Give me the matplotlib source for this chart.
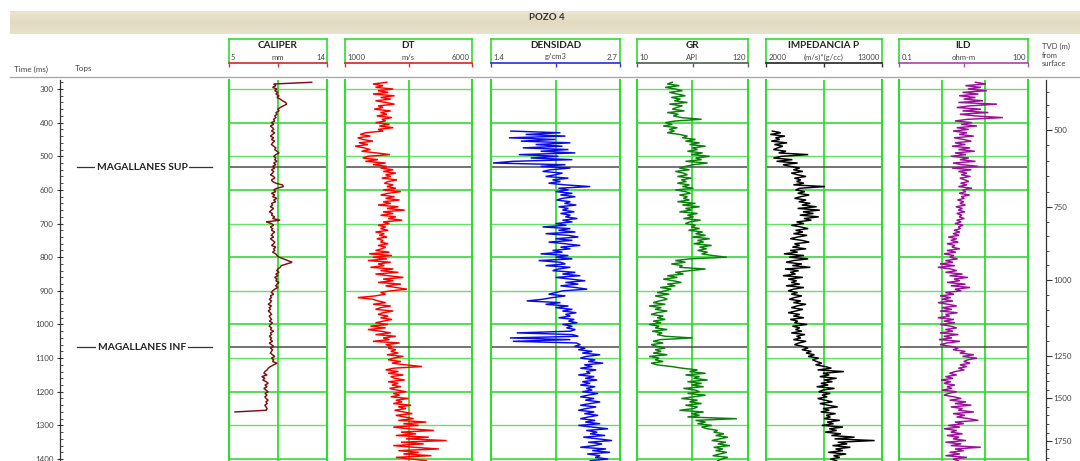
import numpy as np
import matplotlib
matplotlib.use("Agg")
import matplotlib.pyplot as plt
from matplotlib.ticker import FixedLocator, NullFormatter, NullLocator

plt.rcParams["font.family"] = ["Lato", "DejaVu Sans"]

W, H, DPI = 1080, 461, 100

# ------------------------------------------------------------------ data
STEP_MS = 5

caliper_start = 280
caliper_mm = [
    12.6,
    9.1, 9.3, 9.0, 9.4, 9.2, 9.5, 9.3, 9.6, 9.4, 9.7,
    9.9, 10.2, 10.3, 10.0, 9.7, 9.5, 9.6, 9.3, 9.4, 9.2,
    9.3, 9.1, 9.2, 8.9, 9.1, 8.8, 9.0, 9.1, 8.9, 9.2,
    9.0, 8.8, 9.1, 8.9, 9.2, 9.0, 8.9, 9.1, 9.3, 9.2,
    9.4, 9.6, 9.3, 9.1, 9.3, 9.2, 9.4, 9.1, 9.3, 9.0,
    9.2, 8.9, 9.1, 9.0, 8.8, 9.1, 9.2, 8.9, 9.0, 9.3,
    9.9, 10.0, 9.4, 9.1, 9.3, 8.9, 9.2, 9.0, 9.4, 9.1,
    9.3, 8.9, 9.0, 8.8, 9.1, 8.9, 8.7, 9.0, 8.9, 9.2,
    9.0, 9.7, 8.4, 8.9, 9.1, 8.8, 9.0, 8.9, 9.2, 9.0,
    8.9, 9.1, 8.8, 9.0, 9.2, 9.1, 8.9, 9.3, 9.1, 9.2,
    9.0, 9.3, 9.4, 9.6, 10.0, 10.4, 10.8, 10.3, 9.8, 9.7,
    9.5, 9.4, 9.6, 9.3, 9.5, 9.2, 9.4, 9.3, 9.6, 9.4,
    9.3, 9.5, 9.2, 9.0, 8.9, 9.1, 8.8, 8.9, 8.7, 8.9,
    8.8, 8.6, 8.9, 8.7, 8.8, 8.6, 8.8, 8.9, 8.7, 8.8,
    8.9, 8.7, 9.0, 8.8, 8.7, 8.9, 8.8, 9.1, 8.8, 8.9,
    8.7, 8.9, 8.8, 9.0, 8.7, 8.9, 9.1, 8.8, 9.0, 8.9,
    8.8, 9.0, 9.2, 8.9, 9.1, 9.0, 9.4, 9.1, 8.8, 8.6,
    8.5, 8.3, 8.2, 8.5, 8.0, 8.3, 8.1, 8.4, 8.6, 8.3,
    8.5, 8.2, 8.4, 8.6, 8.3, 8.5, 8.3, 8.4, 8.6, 8.4,
    8.5, 8.3, 8.4, 8.5, 8.4, 5.55,
]

dt_start = 280
dt_ms = [
    2650, 2100, 2500, 2200, 2900, 2300, 2700, 2100, 2950, 2400,
    2800, 2200, 2600, 2950, 2300, 2500, 2150, 2800, 2400, 2650,
    2250, 2850, 2450, 2600, 2200, 2750, 2350, 2900, 2300, 2500,
    1800, 1600, 2000, 1500, 1700, 2100, 1550, 1900, 1400, 1750,
    2000, 1650, 2250, 2770, 1900, 1700, 2300, 1800, 2600, 2100,
    2650, 2400, 2900, 2500, 3000, 2600, 2800, 2450, 3050, 2700,
    2550, 2900, 2650, 3000, 2500, 3200, 2700, 2400, 2950, 2600,
    3150, 2500, 2800, 2300, 3100, 2650, 3350, 2500, 2900, 2400,
    3000, 2700, 3250, 2500, 2750, 2300, 2600, 2400, 2700, 2200,
    2550, 2350, 2650, 2250, 2500, 2400, 2700, 2300, 2600, 2450,
    2200, 2750, 1950, 2850, 2100, 2650, 1900, 2800, 2300, 2550,
    2000, 2900, 2400, 3100, 2200, 2700, 3300, 2500, 2900, 2300,
    3200, 2600, 3000, 3440, 2800, 2400, 2600, 2200, 1500, 2100,
    2300, 2600, 2100, 2800, 2400, 2200, 2900, 2500, 2300, 2700,
    2400, 2850, 2500, 2200, 2700, 2000, 2600, 1900, 2400, 2800,
    2200, 3000, 2500, 2750, 2100, 3150, 2600, 2850, 2700, 3000,
    2800, 3100, 2650, 3300, 2900, 2700, 3200, 2850, 3400, 4030,
    2900, 2600, 3100, 2700, 3300, 2800, 2950, 3350, 2700, 3100,
    2850, 3200, 2750, 3050, 3400, 2900, 3150, 2800, 3500, 3000,
    3250, 2900, 3600, 3100, 3400, 2950, 3300, 3650, 3000, 3350,
    3700, 3100, 4200, 3300, 3900, 2900, 3500, 4500, 3200, 3800,
    3000, 4300, 3400, 5000, 3200, 4100, 2900, 3700, 4700, 3100,
    3900, 3300, 4400, 3000, 3600, 4200,
]

dens_start = 425
dens_gcc = [
    1.60, 2.10, 1.75, 2.15, 1.58, 2.05, 1.70, 2.20, 1.85, 2.12,
    1.72, 2.18, 1.90, 2.25, 1.68, 2.08, 1.80, 2.22, 1.62, 1.42,
    2.15, 1.90, 2.20, 2.00, 1.92, 2.12, 2.05, 1.95, 2.18, 2.02,
    2.10, 1.98, 2.15, 2.40, 2.08, 2.18, 2.05, 2.22, 2.10, 2.25,
    2.12, 2.06, 2.20, 2.14, 2.26, 2.08, 2.18, 2.12, 2.24, 2.10,
    2.20, 2.15, 2.27, 2.12, 2.22, 2.05, 2.16, 1.92, 2.20, 2.08,
    2.25, 1.95, 2.18, 2.28, 2.05, 2.22, 1.98, 2.15, 2.30, 2.10,
    2.20, 2.02, 2.12, 1.90, 2.18, 2.05, 2.22, 1.88, 2.10, 2.15,
    1.95, 2.20, 2.08, 2.02, 2.25, 2.12, 2.30, 2.05, 2.20, 2.35,
    2.15, 2.28, 2.10, 2.25, 2.37, 2.12, 2.05, 1.98, 2.15, 2.02,
    1.92, 1.76, 2.10, 1.95, 2.18, 2.05, 2.22, 2.12, 2.26, 2.15,
    2.20, 2.08, 2.24, 2.18, 2.27, 2.12, 2.22, 2.16, 2.25, 2.20,
    1.66, 2.22, 2.28, 1.59, 2.20, 1.62, 2.26, 2.30, 2.24, 2.35,
    2.28, 2.42, 2.32, 2.50, 2.36, 2.30, 2.45, 2.38, 2.53, 2.34,
    2.42, 2.30, 2.46, 2.36, 2.40, 2.28, 2.44, 2.35, 2.47, 2.32,
    2.40, 2.30, 2.45, 2.36, 2.42, 2.32, 2.48, 2.38, 2.30, 2.44,
    2.35, 2.50, 2.40, 2.30, 2.46, 2.36, 2.28, 2.44, 2.34, 2.48,
    2.38, 2.30, 2.45, 2.35, 2.50, 2.28, 2.42, 2.58, 2.36, 2.47,
    2.40, 2.55, 2.33, 2.48, 2.62, 2.38, 2.52, 2.44, 2.30, 2.56,
    2.42, 2.60, 2.37, 2.50, 2.45, 2.58, 2.40,
]

gr_start = 280
gr_api = [
    45, 40, 52, 38, 48, 55, 42, 50, 58, 44,
    53, 47, 60, 42, 55, 49, 45, 57, 40, 51,
    46, 54, 74, 48, 38, 45, 36, 50, 42, 47,
    40, 52, 60, 55, 68, 58, 72, 62, 78, 65,
    70, 60, 75, 64, 82, 68, 74, 58, 80, 66,
    58, 52, 62, 48, 56, 60, 50, 64, 54, 59,
    50, 62, 55, 66, 48, 58, 63, 52, 60, 56,
    62, 50, 68, 55, 72, 58, 64, 52, 70, 60,
    66, 56, 73, 62, 58, 68, 64, 72, 61, 75,
    68, 78, 65, 82, 70, 76, 66, 84, 72, 79,
    70, 80, 74, 85, 99, 62, 48, 58, 44, 55,
    52, 78, 62, 48, 56, 40, 50, 36, 46, 54,
    40, 48, 33, 44, 38, 30, 42, 28, 36, 40,
    32, 26, 38, 22, 34, 28, 40, 30, 24, 36,
    30, 38, 26, 34, 22, 32, 28, 40, 25, 35,
    30, 38, 65, 33, 26, 36, 24, 30, 38, 28,
    34, 26, 40, 22, 32, 28, 36, 24, 30, 44,
    55, 70, 62, 78, 58, 72, 66, 80, 60, 74,
    64, 76, 56, 68, 72, 60, 78, 66, 54, 70,
    62, 74, 58, 70, 66, 52, 76, 64, 72, 60,
    109, 68, 78, 70, 84, 74, 80, 90, 86, 96,
    88, 100, 92, 84, 98, 90, 102, 86, 95, 88,
    99, 92, 85, 100, 94, 90,
]

imp_start = 425
imp_p = [
    2600, 3400, 2400, 3800, 2900, 3300, 2500, 4000, 2800, 3600,
    3100, 2700, 3900, 3200, 6000, 3500, 2700, 4500, 3000, 5000,
    3600, 4300, 5200, 4600, 5500, 4400, 5000, 5800, 4700, 5300,
    4900, 5600, 4600, 7600, 5200, 4800, 5700, 5000, 6100, 5300,
    4700, 5800, 5100, 6200, 5400, 6800, 5000, 7100, 5500, 6500,
    5200, 7000, 5600, 6300, 4900, 5600, 4400, 5300, 6000, 4800,
    5500, 4600, 5900, 5000, 4300, 5400, 6100, 4700, 5200, 4500,
    5800, 4300, 5000, 3700, 5600, 4200, 6000, 4600, 3900, 5400,
    4500, 6200, 3800, 5100, 4300, 4800, 3600, 5500, 4100, 4900,
    4400, 5200, 3900, 5600, 4600, 4100, 5000, 4400, 5400, 4700,
    4200, 5300, 4600, 5800, 4900, 4400, 5500, 4800, 4100, 5200,
    4600, 5600, 4300, 5000, 4700, 5900, 4500, 5200, 4800, 5400,
    4400, 5700, 4900, 5300, 4600, 5800, 5100, 4700, 5500, 6000,
    5400, 6300, 5800, 6600, 6000, 7000, 6400, 6800, 7300, 6700,
    7600, 8200, 6900, 9400, 7400, 8000, 7100, 8700, 7500, 8300,
    7200, 7900, 6800, 8500, 7400, 7000, 8100, 7300, 7800, 6900,
    7600, 8300, 7100, 7900, 8800, 7400, 8000, 7200, 8600, 7700,
    8100, 7500, 9000, 7800, 8400, 7300, 9300, 8000, 8700, 7600,
    9100, 8200, 10400, 8500, 12300, 8800, 9700, 8300, 10000, 8600,
    9300, 7900, 9600, 8400, 9000, 8100, 8700,
]

ild_start = 280
ild_ohmm = [
    6.0, 10.5, 3.5, 8.0, 4.0, 11.0, 3.0, 7.0, 2.5, 6.0,
    3.2, 9.0, 2.4, 19.0, 4.5, 2.2, 8.0, 3.0, 12.0, 2.6,
    6.0, 26.0, 4.0, 2.0, 5.0, 2.8, 6.5, 2.2, 4.2, 1.8,
    3.8, 2.5, 5.5, 1.9, 3.2, 4.8, 2.0, 3.5, 1.7, 4.5,
    2.4, 5.8, 2.0, 3.6, 1.6, 4.2, 2.6, 6.0, 1.8, 3.0,
    7.0, 1.7, 4.8, 2.4, 3.8, 2.8, 4.6, 2.6, 3.4, 4.2,
    2.7, 3.8, 2.4, 5.0, 3.0, 3.6, 2.5, 4.4, 2.8, 3.3,
    2.3, 3.2, 2.6, 3.5, 2.1, 3.0, 2.4, 3.4, 2.2, 2.9,
    2.5, 3.3, 2.2, 2.8, 2.0, 3.1, 2.4, 2.7, 1.9, 2.6,
    1.8, 2.5, 1.4, 2.2, 1.6, 2.4, 1.3, 2.0, 1.7, 2.6,
    1.3, 2.1, 1.1, 1.9, 1.5, 2.3, 1.2, 1.8, 0.9, 2.0,
    0.8, 1.6, 2.2, 1.2, 3.0, 1.5, 4.0, 1.9, 2.6, 1.3,
    3.5, 1.6, 4.5, 2.0, 2.8, 1.2, 1.9, 0.9, 1.6, 1.0,
    1.8, 0.8, 1.4, 2.2, 1.0, 1.7, 0.9, 2.3, 1.2, 1.5,
    0.8, 1.9, 1.1, 2.0, 0.9, 1.6, 2.2, 1.2, 1.8, 0.9,
    2.4, 1.1, 1.7, 0.85, 2.6, 1.3, 0.9, 1.6, 2.4, 1.8,
    3.5, 2.6, 5.5, 3.0, 6.5, 4.0, 3.2, 4.5, 2.6, 3.8,
    2.4, 3.3, 2.0, 1.5, 2.2, 1.2, 1.8, 0.95, 1.6, 1.1,
    2.0, 1.3, 1.7, 1.0, 2.2, 1.4, 1.1, 1.9, 2.8, 1.5,
    3.6, 2.0, 4.8, 1.6, 3.0, 2.4, 5.5, 1.8, 3.4, 2.2,
    4.2, 7.0, 2.0, 3.2, 1.4, 2.6, 1.1, 2.2, 1.6, 3.0,
    1.3, 2.5, 1.8, 3.6, 1.2, 2.8, 1.6, 8.0, 2.0, 3.2,
    1.5, 2.6, 1.2, 3.8, 1.8, 2.4,
]

tops_names = ["MAGALLANES SUP", "MAGALLANES INF"]
tops_twt = [532, 1067]

twt_ticks = [300, 400, 500, 600, 700, 800, 900, 1000, 1100, 1200, 1300, 1400]
tvd_ticks = [500, 750, 1000, 1250, 1500, 1750]
# time-depth table used to place the TVD scale
td_tvd = [300, 500, 750, 1000, 1250, 1500, 1750, 1900]
td_twt = [272, 422, 651, 868, 1094, 1219, 1347, 1420]

# ------------------------------------------------------------------ layout
T_TOP, T_BOT = 273.2, 1405.8
PLOT_Y0, PLOT_Y1 = 80, 461
HDR_Y0, HDR_Y1 = 39, 63

GRID_V = "#2fdc2f"
GRID_H = "#62e262"
TOP_LINE = "#4d4d4d"

tracks = [
    dict(name="CALIPER", unit="mm", lo="5", hi="14", x=(229, 327), lim=(5, 14),
         scale="linear", color="#7a1010", sc="#d03a3a",
         t0=caliper_start, vals=caliper_mm),
    dict(name="DT", unit="m/s", lo="1000", hi="6000", x=(345, 472), lim=(1000, 6000),
         scale="linear", color="#ff0000", sc="#e03030",
         t0=dt_start, vals=dt_ms),
    dict(name="DENSIDAD", unit="g/cm3", lo="1.4", hi="2.7", x=(491, 620), lim=(1.4, 2.7),
         scale="linear", color="#0a0ae6", sc="#3a3ae0",
         t0=dens_start, vals=dens_gcc),
    dict(name="GR", unit="API", lo="10", hi="120", x=(637, 748), lim=(10, 120),
         scale="linear", color="#08800a", sc="#556b55",
         t0=gr_start, vals=gr_api),
    dict(name="IMPEDANCIA P", unit="(m/s)*(g/cc)", lo="2000", hi="13000", x=(766, 882),
         lim=(2000, 13000), scale="linear", color="#000000", sc="#333333",
         t0=imp_start, vals=imp_p),
    dict(name="ILD", unit="ohm-m", lo="0.1", hi="100", x=(899, 1028), lim=(0.1, 100),
         scale="log", color="#9a109a", sc="#b050b0",
         t0=ild_start, vals=ild_ohmm),
]

fig = plt.figure(figsize=(W / DPI, H / DPI), dpi=DPI)
fig.patch.set_facecolor("white")


def px_axes(x0, y0, x1, y1, **kw):
    return fig.add_axes([x0 / W, 1 - y1 / H, (x1 - x0) / W, (y1 - y0) / H], **kw)


# background layer in pixel coordinates
bg = fig.add_axes([0, 0, 1, 1], zorder=-5)
bg.set_xlim(0, W)
bg.set_ylim(H, 0)
bg.axis("off")
grad = np.linspace(0, 1, 24)[:, None]
bg.imshow(grad, cmap=matplotlib.colors.LinearSegmentedColormap.from_list(
    "band", ["#e9e5d0", "#e0dbc0", "#e6e2cc"]), extent=(10, 1080, 34, 11),
    aspect="auto", zorder=0)
bg.text(547, 17, "POZO 4", ha="center", va="center", fontsize=7,
        fontweight="bold", color="#333333")
bg.plot([10, 1080], [77, 77], color="#a9a9a9", lw=1.0)
bg.text(14, 69, "Time (ms)", ha="left", va="center", fontsize=5.8, color="#444444")
bg.text(75, 69, "Tops", ha="left", va="center", fontsize=5.8, color="#444444")
for i, s in enumerate(["TVD (m)", "from", "surface"]):
    bg.text(1042, 46 + 9 * i, s, ha="left", va="center", fontsize=5.5, color="#444444")

# time axis and formation tops column
axl = px_axes(60, PLOT_Y0, 225, PLOT_Y1)
axl.set_facecolor("none")
axl.set_xlim(60, 225)
axl.set_ylim(T_BOT, T_TOP)
for s in ("top", "right", "bottom"):
    axl.spines[s].set_visible(False)
axl.spines["left"].set_color("#333333")
axl.spines["left"].set_linewidth(0.9)
axl.set_xticks([])
axl.yaxis.set_major_locator(FixedLocator(twt_ticks))
axl.yaxis.set_minor_locator(FixedLocator(np.arange(280, 1406, 20)))
axl.tick_params(axis="y", which="major", direction="inout", length=5, width=0.8,
                labelsize=5.8, colors="#333333", labelcolor="#444444", pad=2)
axl.tick_params(axis="y", which="minor", direction="in", length=2.5, width=0.6,
                colors="#333333")
for name, t in zip(tops_names, tops_twt):
    axl.plot([77, 212], [t, t], color="#333333", lw=0.9)
    axl.text(142, t, name, ha="center", va="center", fontsize=7.4, fontweight="bold",
             color="#222222",
             bbox=dict(boxstyle="square,pad=0.2", fc="white", ec="none"))

# log tracks
for tr in tracks:
    x0, x1 = tr["x"]
    ax = px_axes(x0, PLOT_Y0, x1, PLOT_Y1)
    ax.set_facecolor("none")
    ax.set_xscale(tr["scale"])
    ax.set_xlim(*tr["lim"])
    ax.set_ylim(T_BOT, T_TOP)
    ax.xaxis.set_major_locator(NullLocator())
    ax.xaxis.set_minor_locator(NullLocator())
    ax.yaxis.set_major_locator(NullLocator())
    ax.yaxis.set_minor_locator(NullLocator())
    for s in ("top", "bottom"):
        ax.spines[s].set_visible(False)
    for s in ("left", "right"):
        ax.spines[s].set_color(GRID_V)
        ax.spines[s].set_linewidth(1.5)
    for t in twt_ticks:
        ax.axhline(t, color=GRID_H if t % 200 else "#45dc45",
                   lw=1.0 if t % 200 else 1.3, zorder=1)
    if tr["scale"] == "log":
        for v in (1, 10):
            ax.axvline(v, color=GRID_V, lw=1.3, zorder=1)
    else:
        ax.axvline(0.5 * (tr["lim"][0] + tr["lim"][1]), color=GRID_V, lw=1.3, zorder=1)
    for t in tops_twt:
        ax.axhline(t, color=TOP_LINE, lw=1.1, zorder=2)
    vals = np.asarray(tr["vals"], dtype=float)
    twt = tr["t0"] + STEP_MS * np.arange(len(vals))
    ax.plot(vals, twt, color=tr["color"], lw=1.05, zorder=3, solid_joinstyle="miter")

    # header box with scale
    hx = px_axes(x0, HDR_Y0, x1, HDR_Y1)
    hx.set_facecolor("white")
    hx.set_xlim(0, 1)
    hx.set_ylim(0, 1)
    for s in ("left", "right", "top"):
        hx.spines[s].set_color(GRID_V)
        hx.spines[s].set_linewidth(1.2)
    hx.spines["bottom"].set_color(tr["sc"])
    hx.spines["bottom"].set_linewidth(1.3)
    hx.set_xticks([0.003, 0.5, 0.997])
    hx.xaxis.set_major_formatter(NullFormatter())
    hx.set_yticks([])
    hx.tick_params(axis="x", direction="out", length=3, width=1.0, colors=tr["sc"])
    hx.text(0.5, 0.74, tr["name"], ha="center", va="center", fontsize=7.2,
            fontweight="bold", color="#222222")
    hx.text(0.02, 0.25, tr["lo"], ha="left", va="center", fontsize=5.6, color="#444444")
    hx.text(0.5, 0.25, tr["unit"], ha="center", va="center", fontsize=5.6, color="#444444")
    hx.text(0.98, 0.25, tr["hi"], ha="right", va="center", fontsize=5.6, color="#444444")

# TVD scale on the right
axr = px_axes(1030, PLOT_Y0, 1046, PLOT_Y1)
axr.set_facecolor("none")
axr.set_ylim(T_BOT, T_TOP)
axr.set_xticks([])
for s in ("top", "left", "bottom"):
    axr.spines[s].set_visible(False)
axr.spines["right"].set_color("#333333")
axr.spines["right"].set_linewidth(0.9)
axr.yaxis.tick_right()
major_pos = np.interp(tvd_ticks, td_tvd, td_twt)
minor_tvd = [d for d in range(300, 1901, 50) if d not in tvd_ticks]
minor_pos = np.interp(minor_tvd, td_tvd, td_twt)
axr.yaxis.set_major_locator(FixedLocator(major_pos))
axr.set_yticklabels([str(d) for d in tvd_ticks])
axr.yaxis.set_minor_locator(FixedLocator(minor_pos))
axr.tick_params(axis="y", which="major", direction="out", length=4, width=0.8,
                labelsize=5.8, colors="#333333", labelcolor="#444444", pad=1.5)
axr.tick_params(axis="y", which="minor", direction="out", length=2.5, width=0.6,
                colors="#333333")

fig.savefig("out.png", dpi=DPI, facecolor="white")
